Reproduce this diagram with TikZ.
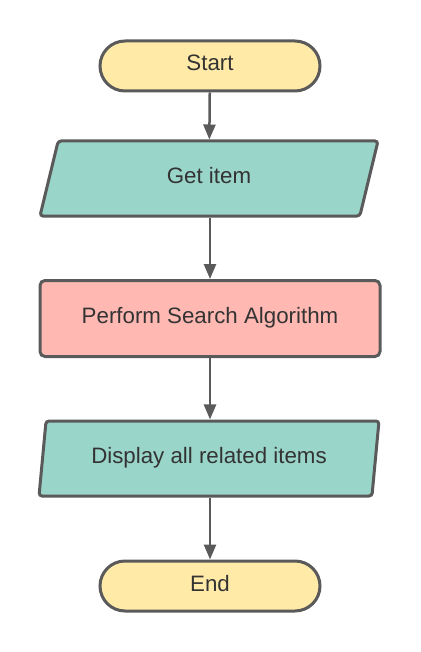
\documentclass[tikz,border=0pt]{standalone}
\usepackage{fontspec}
\setmainfont{Liberation Sans}
\usetikzlibrary{shapes.geometric,arrows.meta}
\definecolor{strokegray}{HTML}{5A5A5A}
\definecolor{textgray}{HTML}{333333}
\definecolor{termfill}{HTML}{FFEAA7}
\definecolor{iofill}{HTML}{9AD5CA}
\definecolor{procfill}{HTML}{FFB9B2}
\begin{document}
\begin{tikzpicture}[x=1pt,y=-1pt,
  base/.style={draw=strokegray, line width=3pt, text=textgray,
    font=\fontsize{22.3}{26}\selectfont, inner sep=0pt,
    text height=16pt, text depth=6pt},
  terminal/.style={base, fill=termfill, rectangle, rounded corners=25pt,
    minimum width=220pt, minimum height=50pt},
  iobox/.style={base, fill=iofill, trapezium, trapezium left angle=77,
    trapezium right angle=103, trapezium stretches=true, rounded corners=3pt,
    minimum width=341pt, minimum height=75pt},
  procbox/.style={base, fill=procfill, rectangle, rounded corners=5pt,
    minimum width=340pt, minimum height=76pt},
  flow/.style={draw=strokegray, line width=2.5pt,
    -{Triangle[length=15pt,width=12pt]}}
]
\useasboundingbox (0,0) rectangle (420,652);
\node[terminal] (start) at (210,66) {Start};
\node[iobox] (get) at (209,178.5) {Get item};
\node[procbox] (perform) at (210,318.5) {Perform Search Algorithm};
\node[iobox] (display) at (209,458.5) {Display all related items};
\node[terminal] (end) at (210,586) {End};
\draw[flow] (start) -- (get);
\draw[flow] (get.south -| start) -- (perform.north);
\draw[flow] (perform) -- (display.north -| perform);
\draw[flow] (display.south -| end) -- (end);
\end{tikzpicture}
\end{document}
